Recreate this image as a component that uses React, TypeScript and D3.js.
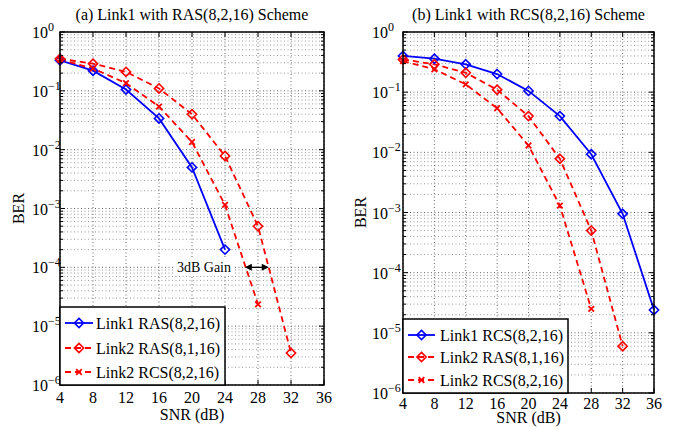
import React from "react";
import * as d3 from "d3";

// ---------- data ----------
const snrTicks = [4, 8, 12, 16, 20, 24, 28, 32, 36];
const berDecades = [0, -1, -2, -3, -4, -5, -6];

// Panel (a)
const aLink1RAS_snr = [4, 8, 12, 16, 20, 24];
const aLink1RAS_ber = [0.33, 0.22, 0.105, 0.034, 0.005, 0.0002];
const aLink2RAS_snr = [4, 8, 12, 16, 20, 24, 28, 32];
const aLink2RAS_ber = [0.35, 0.29, 0.21, 0.11, 0.04, 0.0078, 0.0005, 3.5e-6];
const aLink2RCS_snr = [4, 8, 12, 16, 20, 24, 28];
const aLink2RCS_ber = [0.34, 0.24, 0.135, 0.054, 0.0135, 0.00115, 2.35e-5];

// Panel (b)
const bLink1RCS_snr = [4, 8, 12, 16, 20, 24, 28, 32, 36];
const bLink1RCS_ber = [0.4, 0.36, 0.29, 0.2, 0.105, 0.04, 0.0093, 0.00095, 2.4e-5];
const bLink2RAS_snr = [4, 8, 12, 16, 20, 24, 28, 32];
const bLink2RAS_ber = [0.35, 0.29, 0.21, 0.11, 0.04, 0.0078, 0.0005, 6e-6];
const bLink2RCS_snr = [4, 8, 12, 16, 20, 24, 28];
const bLink2RCS_ber = [0.33, 0.24, 0.135, 0.054, 0.013, 0.0013, 2.5e-5];

const titleA = "(a) Link1 with RAS(8,2,16) Scheme";
const titleB = "(b) Link1 with RCS(8,2,16) Scheme";
const legendA = ["Link1 RAS(8,2,16)", "Link2 RAS(8,1,16)", "Link2 RCS(8,2,16)"];
const legendB = ["Link1 RCS(8,2,16)", "Link2 RAS(8,1,16)", "Link2 RCS(8,2,16)"];

// annotation (panel a)
const gainLabel = "3dB Gain";
const gainArrowSnr = [26.4, 29.3];
const gainBer = 1e-4;

const FONT = "'Times New Roman', 'Liberation Serif', 'DejaVu Serif', serif";
const BLUE = "#0000ff";
const RED = "#ff0000";

type Series = { snr: number[]; ber: number[]; color: string; dash?: string; marker: "diamond" | "x" };

type Layout = {
  x0: number; x1: number; y0: number; y1: number;
  title: string;
  series: Series[];
  legendLabels: string[];
  legend: { x: number; y: number; w: number; h: number; rows: number[]; lx0: number; lx1: number; tx: number };
  tickLabelY: number; xLabelY: number; berX: number; yLabelX: number;
  id: string;
  annotation?: boolean;
};

function Marker({ type, x, y, color }: { type: string; x: number; y: number; color: string }) {
  if (type === "diamond") {
    const r = 4.6;
    return (
      <path
        d={`M${x},${y - r}L${x + r},${y}L${x},${y + r}L${x - r},${y}Z`}
        fill="none"
        stroke={color}
        strokeWidth={1.6}
      />
    );
  }
  const r = 2.8;
  return (
    <path
      d={`M${x - r},${y - r}L${x + r},${y + r}M${x - r},${y + r}L${x + r},${y - r}`}
      stroke={color}
      strokeWidth={1.8}
      fill="none"
    />
  );
}

function Panel({ L }: { L: Layout }) {
  const x = d3.scaleLinear().domain([4, 36]).range([L.x0, L.x1]);
  const y = d3.scaleLog().domain([1e-6, 1]).range([L.y1, L.y0]);
  const line = d3
    .line<[number, number]>()
    .x((d) => x(d[0]))
    .y((d) => y(d[1]));

  const minor: number[] = [];
  for (let e = -6; e < 0; e++) for (let m = 2; m <= 9; m++) minor.push(m * Math.pow(10, e));
  const majors = berDecades.map((e) => Math.pow(10, e));

  const gridColor = "#9a9a9a";
  const dash = "1,2.5";

  return (
    <g fontFamily={FONT}>
      <defs>
        <clipPath id={`clip-${L.id}`}>
          <rect x={L.x0} y={L.y0} width={L.x1 - L.x0} height={L.y1 - L.y0} />
        </clipPath>
      </defs>
      <rect x={L.x0} y={L.y0} width={L.x1 - L.x0} height={L.y1 - L.y0} fill="#fff" />
      {minor.map((v, i) => (
        <line key={`mn${i}`} x1={L.x0} x2={L.x1} y1={y(v)} y2={y(v)} stroke={gridColor} strokeWidth={1} strokeDasharray={dash} />
      ))}
      {majors.map((v, i) => (
        <line key={`mj${i}`} x1={L.x0} x2={L.x1} y1={y(v)} y2={y(v)} stroke="#666" strokeWidth={1} strokeDasharray={dash} />
      ))}
      {snrTicks.map((t, i) => (
        <line key={`vx${i}`} x1={x(t)} x2={x(t)} y1={L.y0} y2={L.y1} stroke="#666" strokeWidth={1} strokeDasharray={dash} />
      ))}

      <g clipPath={`url(#clip-${L.id})`}>
        {L.series.map((s, i) => (
          <path
            key={`s${i}`}
            d={line(s.snr.map((v, j) => [v, s.ber[j]] as [number, number])) || ""}
            fill="none"
            stroke={s.color}
            strokeWidth={1.8}
            strokeDasharray={s.dash}
          />
        ))}
      </g>
      {L.series.map((s, i) => (
        <g key={`m${i}`}>
          {s.snr.map((v, j) => (
            <Marker key={j} type={s.marker} x={x(v)} y={y(s.ber[j])} color={s.color} />
          ))}
        </g>
      ))}

      {snrTicks.map((t, i) => (
        <g key={`xt${i}`}>
          <line x1={x(t)} x2={x(t)} y1={L.y1} y2={L.y1 - 5} stroke="#000" strokeWidth={1} />
          <line x1={x(t)} x2={x(t)} y1={L.y0} y2={L.y0 + 5} stroke="#000" strokeWidth={1} />
        </g>
      ))}
      {majors.map((v, i) => (
        <g key={`yt${i}`}>
          <line x1={L.x0} x2={L.x0 + 5} y1={y(v)} y2={y(v)} stroke="#000" strokeWidth={1} />
          <line x1={L.x1} x2={L.x1 - 5} y1={y(v)} y2={y(v)} stroke="#000" strokeWidth={1} />
        </g>
      ))}
      {minor.map((v, i) => (
        <g key={`ymt${i}`}>
          <line x1={L.x0} x2={L.x0 + 3} y1={y(v)} y2={y(v)} stroke="#000" strokeWidth={1} />
          <line x1={L.x1} x2={L.x1 - 3} y1={y(v)} y2={y(v)} stroke="#000" strokeWidth={1} />
        </g>
      ))}

      <rect x={L.x0} y={L.y0} width={L.x1 - L.x0} height={L.y1 - L.y0} fill="none" stroke="#000" strokeWidth={1.5} />

      {snrTicks.map((t, i) => (
        <text key={`xl${i}`} x={x(t)} y={L.tickLabelY} textAnchor="middle" fontSize={16}>
          {t}
        </text>
      ))}
      {berDecades.map((e, i) => (
        <text key={`yl${i}`} x={L.yLabelX} y={y(Math.pow(10, e)) + 6} fontSize={16}>
          10
          <tspan dy={-7} fontSize={12}>
            {e < 0 ? `\u2212${-e}` : `${e}`}
          </tspan>
        </text>
      ))}

      <text x={(L.x0 + L.x1) / 2} y={20} textAnchor="middle" fontSize={16}>
        {L.title}
      </text>
      <text x={(L.x0 + L.x1) / 2} y={L.xLabelY} textAnchor="middle" fontSize={16}>
        SNR (dB)
      </text>
      <text
        transform={`translate(${L.berX},${(L.y0 + L.y1) / 2}) rotate(-90)`}
        textAnchor="middle"
        fontSize={16}
      >
        BER
      </text>

      {L.annotation && (
        <g>
          <rect x={175} y={y(gainBer) - 9} width={58} height={17} fill="#fff" />
          <text x={231} y={y(gainBer) + 5} textAnchor="end" fontSize={14}>
            {gainLabel}
          </text>
          <line
            x1={x(gainArrowSnr[0]) + 2}
            x2={x(gainArrowSnr[1]) - 2}
            y1={y(gainBer)}
            y2={y(gainBer)}
            stroke="#000"
            strokeWidth={1.3}
          />
          <path d={`M${x(gainArrowSnr[0])},${y(gainBer)}l7,-3.5l0,7Z`} fill="#000" />
          <path d={`M${x(gainArrowSnr[1])},${y(gainBer)}l-7,-3.5l0,7Z`} fill="#000" />
        </g>
      )}

      <rect x={L.legend.x} y={L.legend.y} width={L.legend.w} height={L.legend.h} fill="#fff" stroke="#000" strokeWidth={1.5} />
      {L.series.map((s, i) => {
        const ry = L.legend.rows[i];
        const mx = (L.legend.lx0 + L.legend.lx1) / 2;
        return (
          <g key={`lg${i}`}>
            <line x1={L.legend.lx0} x2={L.legend.lx1} y1={ry} y2={ry} stroke={s.color} strokeWidth={1.8} strokeDasharray={s.dash} />
            <Marker type={s.marker} x={mx} y={ry} color={s.color} />
            <text x={L.legend.tx} y={ry + 5.5} fontSize={16}>
              {L.legendLabels[i]}
            </text>
          </g>
        );
      })}
    </g>
  );
}

export default function App() {
  const DASH = "6,4";
  const layoutA: Layout = {
    id: "a",
    x0: 60, x1: 324, y0: 32, y1: 385,
    title: titleA,
    series: [
      { snr: aLink1RAS_snr, ber: aLink1RAS_ber, color: BLUE, marker: "diamond" },
      { snr: aLink2RAS_snr, ber: aLink2RAS_ber, color: RED, dash: DASH, marker: "diamond" },
      { snr: aLink2RCS_snr, ber: aLink2RCS_ber, color: RED, dash: DASH, marker: "x" },
    ],
    legendLabels: legendA,
    legend: { x: 60, y: 307, w: 165, h: 78, rows: [323, 348, 372], lx0: 65, lx1: 93, tx: 96 },
    tickLabelY: 403, xLabelY: 420, berX: 24, yLabelX: 32,
    annotation: true,
  };
  const layoutB: Layout = {
    id: "b",
    x0: 403, x1: 654, y0: 32, y1: 393,
    title: titleB,
    series: [
      { snr: bLink1RCS_snr, ber: bLink1RCS_ber, color: BLUE, marker: "diamond" },
      { snr: bLink2RAS_snr, ber: bLink2RAS_ber, color: RED, dash: DASH, marker: "diamond" },
      { snr: bLink2RCS_snr, ber: bLink2RCS_ber, color: RED, dash: DASH, marker: "x" },
    ],
    legendLabels: legendB,
    legend: { x: 403, y: 319, w: 165, h: 74, rows: [335, 357, 380], lx0: 408, lx1: 435, tx: 440 },
    tickLabelY: 409, xLabelY: 423, berX: 366, yLabelX: 372,
  };
  return (
    <svg
      width={675}
      height={427}
      viewBox="0 0 675 427"
      style={{ position: "absolute", left: 0, top: 0, background: "#fff" }}
    >
      <rect width={675} height={427} fill="#fff" />
      <Panel L={layoutA} />
      <Panel L={layoutB} />
    </svg>
  );
}
